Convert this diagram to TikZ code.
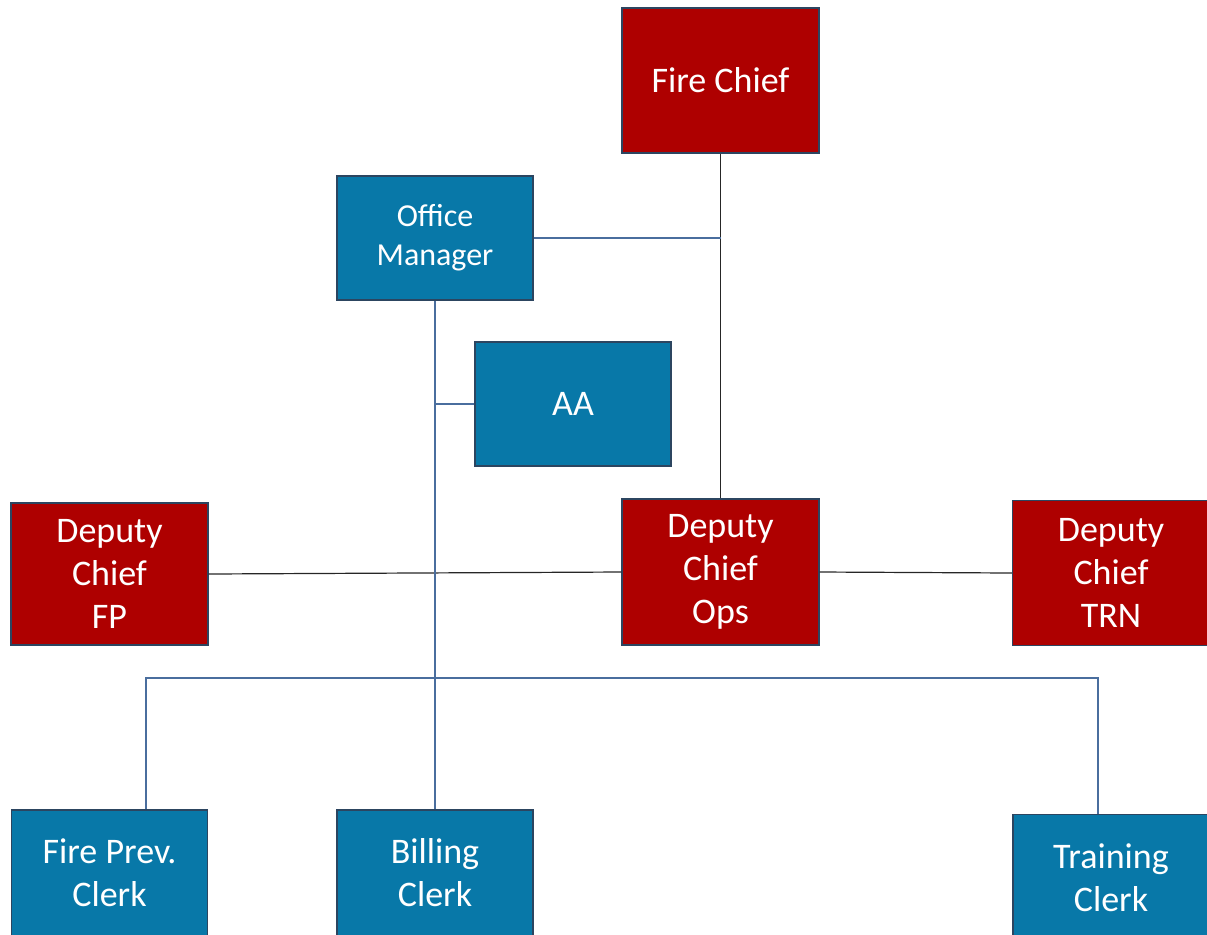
\documentclass[tikz,border=0pt]{standalone}
\usepackage{fontspec}
\setmainfont{Carlito}
\usepackage{xcolor}
\usetikzlibrary{positioning,calc}

\definecolor{chiefred}{HTML}{AE0000}
\definecolor{staffblue}{HTML}{0878A8}
\definecolor{boxedge}{HTML}{2C4560}
\definecolor{wireblue}{HTML}{4A6E9E}

\begin{document}
\begin{tikzpicture}[
  x=0.5pt, y=-0.5pt,
  redbox/.style={rectangle, draw=boxedge, line width=0.6pt, fill=chiefred, text=white,
    minimum width=98.5pt, minimum height=72.5pt, inner sep=0pt, align=center,
    font=\fontsize{18}{21.5}\selectfont},
  bluebox/.style={rectangle, draw=boxedge, line width=0.6pt, fill=staffblue, text=white,
    minimum width=98pt, minimum height=62pt, inner sep=0pt, align=center,
    font=\fontsize{16}{19.5}\selectfont},
  clerk/.style={bluebox, minimum height=63pt, font=\fontsize{18}{21.5}\selectfont},
  wire/.style={line width=0.6pt, black!85},
  bwire/.style={line width=0.6pt, wireblue}
]
\useasboundingbox (0,0) rectangle (1207,934);
\clip (0,0) rectangle (1207,934);

% chiefs
\node[redbox] (chief) at (720.5,80.5) {Fire Chief};
\node[redbox, minimum height=71pt] (dcfp) at (109.5,574) {Deputy\\Chief\\FP};
\node[redbox, minimum height=73pt] (dcops) at (720.5,572) {Deputy\\Chief\\Ops};
\node[redbox] (dctrn) at (1111,573) {Deputy\\Chief\\TRN};

% office staff
\node[bluebox] (om) at (435,238) {Office\\Manager};
\node[bluebox, font=\fontsize{18}{21.5}\selectfont] (aa) at (573,404) {AA};

% clerks
\node[clerk] (fpc) at (109.5,873) {Fire Prev.\\Clerk};
\node[clerk] (bc) at (435,873) {Billing\\Clerk};
\node[clerk] (tc) at (1111,877.5) {Training\\Clerk};

% junctions
\coordinate (omj) at (chief.south |- om.east);
\coordinate (aaj) at (om.south |- aa.west);
\coordinate (busl) at (146,678);
\coordinate (busr) at (1098,678);

% chain of command
\draw[wire] (chief.south) -- (dcops.north);
\draw[wire] (dcfp.east) -- (dcops.west);
\draw[wire] (dcops.east) -- (dctrn.west);

% office lines
\draw[bwire] (om.east) -- (omj);
\draw[bwire] (om.south) -- (bc.north);
\draw[bwire] (aaj) -- (aa.west);
\draw[bwire] (busl |- fpc.north) -- (busl) -- (busr) -- (busr |- tc.north);
\end{tikzpicture}
\end{document}
